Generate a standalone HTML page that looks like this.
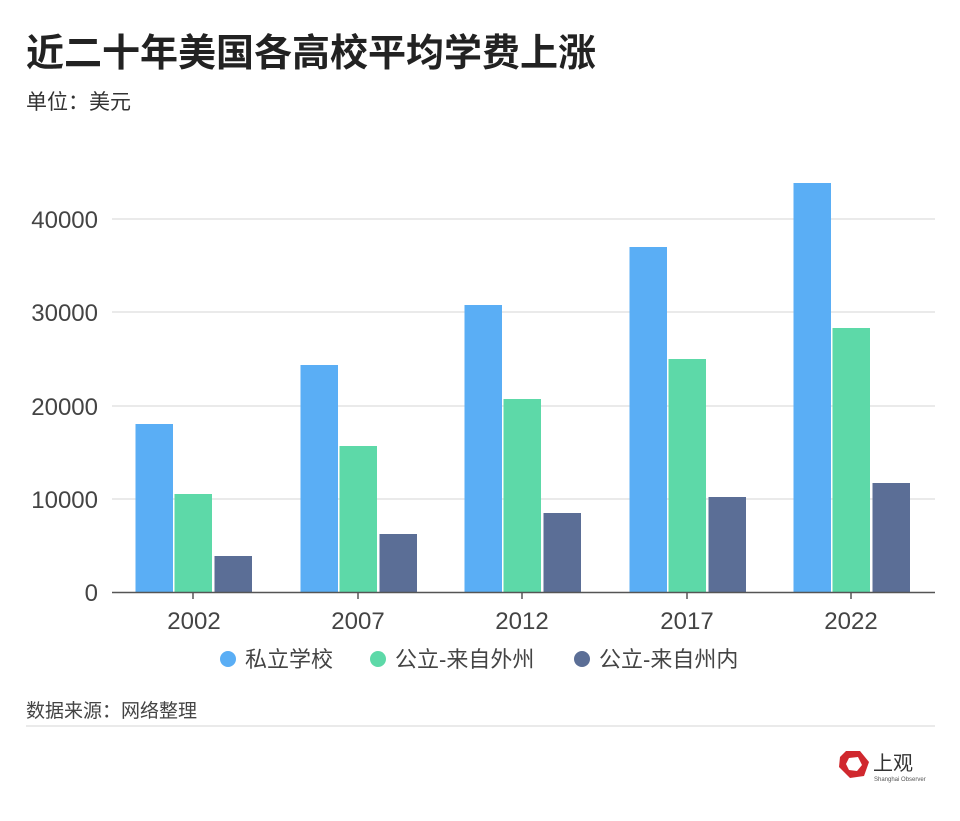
<!DOCTYPE html>
<html><head><meta charset="utf-8"><style>
body{margin:0;background:#fff;width:960px;height:816px;overflow:hidden;font-family:"Liberation Sans","Noto Sans CJK SC",sans-serif;}
</style></head><body>
<svg width="960" height="816" xmlns="http://www.w3.org/2000/svg" font-family="Liberation Sans, Noto Sans CJK SC, sans-serif">
<text x="26" y="66" font-size="38" font-weight="bold" fill="#222">近二十年美国各高校平均学费上涨</text>
<text x="26" y="109" font-size="21" fill="#333">单位：美元</text>
<g stroke="#ddd" stroke-width="1.3">
<line x1="112" y1="499" x2="935" y2="499"/><line x1="112" y1="406" x2="935" y2="406"/>
<line x1="112" y1="312" x2="935" y2="312"/><line x1="112" y1="219" x2="935" y2="219"/>
</g>
<g font-size="24" fill="#444" text-anchor="end">
<text x="98" y="601">0</text><text x="98" y="508">10000</text><text x="98" y="415">20000</text><text x="98" y="321">30000</text><text x="98" y="228">40000</text>
</g>
<g fill="#5aaef5">
<rect x="135.5" y="424" width="37.5" height="168"/><rect x="300.5" y="365" width="37.5" height="227"/><rect x="464.5" y="305" width="37.5" height="287"/><rect x="629.5" y="247" width="37.5" height="345"/><rect x="793.5" y="183" width="37.5" height="409"/>
</g>
<g fill="#5dd9a8">
<rect x="174.5" y="494" width="37.5" height="98"/><rect x="339.5" y="446" width="37.5" height="146"/><rect x="503.5" y="399" width="37.5" height="193"/><rect x="668.5" y="359" width="37.5" height="233"/><rect x="832.5" y="328" width="37.5" height="264"/>
</g>
<g fill="#5b6e96">
<rect x="214.5" y="556" width="37.5" height="36"/><rect x="379.5" y="534" width="37.5" height="58"/><rect x="543.5" y="513" width="37.5" height="79"/><rect x="708.5" y="497" width="37.5" height="95"/><rect x="872.5" y="483" width="37.5" height="109"/>
</g>
<line x1="112" y1="592.5" x2="935" y2="592.5" stroke="#555" stroke-width="1.5"/>
<g stroke="#555" stroke-width="1.5"><line x1="193" y1="592" x2="193" y2="599"/><line x1="358" y1="592" x2="358" y2="599"/><line x1="522" y1="592" x2="522" y2="599"/><line x1="687" y1="592" x2="687" y2="599"/><line x1="851" y1="592" x2="851" y2="599"/></g>
<g font-size="24" fill="#444" text-anchor="middle">
<text x="194" y="629">2002</text><text x="358" y="629">2007</text><text x="522" y="629">2012</text><text x="687" y="629">2017</text><text x="851" y="629">2022</text>
</g>
<g font-size="22" fill="#444">
<circle cx="228" cy="659" r="8" fill="#5aaef5"/><text x="245" y="667">私立学校</text>
<circle cx="378" cy="659" r="8" fill="#5dd9a8"/><text x="395" y="667">公立-来自外州</text>
<circle cx="582" cy="659" r="8" fill="#5b6e96"/><text x="599" y="667">公立-来自州内</text>
</g>
<text x="26" y="717" font-size="19" fill="#444">数据来源：网络整理</text>
<line x1="26" y1="726" x2="935" y2="726" stroke="#ddd" stroke-width="1.3"/>
<polygon points="846,751 860,751 869,762 864,776 850,778 839,767 840,757" fill="#d0282e"/>
<polygon points="849,758 858,757 862,765 857,771 849,770 846,764" fill="#fff"/>
<text x="873" y="770" font-size="20" fill="#333">上观</text>
<text x="874" y="781" font-size="6" fill="#555">Shanghai Observer</text>
</svg>
</body></html>
